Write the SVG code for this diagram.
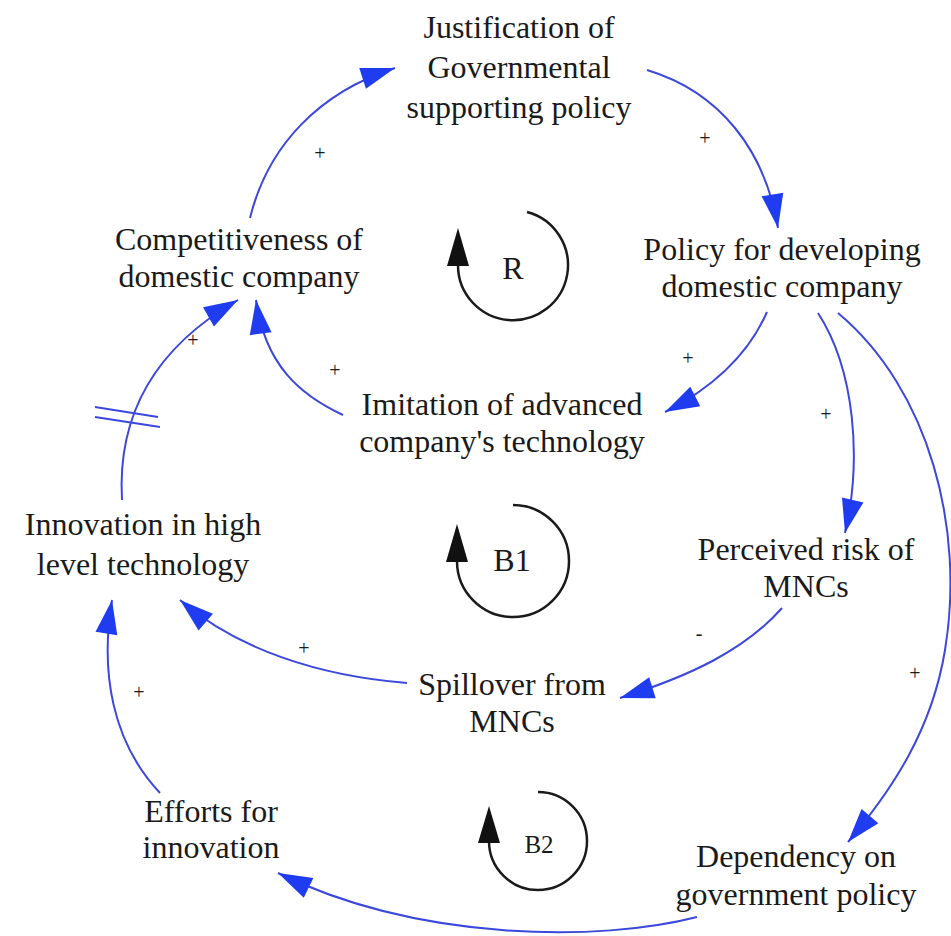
<svg xmlns="http://www.w3.org/2000/svg" width="951" height="936" viewBox="0 0 951 936">
<style>
.t{font-family:"Liberation Serif","Times New Roman",serif;font-size:32px;fill:#1a1a1a;text-anchor:middle}
.s{font-family:"Liberation Serif","Times New Roman",serif;font-size:20px;fill:#1a1a1a;text-anchor:middle}
.c{fill:none;stroke:#3c48dc;stroke-width:2}
.lp{fill:none;stroke:#1a1a1a;stroke-width:2.5}
.hd{fill:#111}
</style>
<defs>
<marker id="ah" markerUnits="userSpaceOnUse" markerWidth="40" markerHeight="26" viewBox="-37 -13 40 26" refX="0" refY="0" orient="auto">
<path d="M0,0 L-34,-11 L-34,11 Z" fill="#1f3cf0"/>
</marker>
</defs>
<rect width="951" height="936" fill="#fff"/>
<g id="connectors">
<path class="c" marker-end="url(#ah)" d="M250,218 C268,145 320,92 395,68"/>
<path class="c" marker-end="url(#ah)" d="M647,70 C720,92 765,150 778,228"/>
<path class="c" marker-end="url(#ah)" d="M767,312 C748,355 712,388 665,412"/>
<path class="c" marker-end="url(#ah)" d="M818,313 C855,370 862,460 845,533"/>
<path class="c" marker-end="url(#ah)" d="M838,313 C930,390 965,530 945,650 C932,730 892,790 848,842"/>
<path class="c" marker-end="url(#ah)" d="M782,608 C745,650 690,676 620,698"/>
<path class="c" marker-end="url(#ah)" d="M407,683 C320,676 238,650 180,600"/>
<path class="c" marker-end="url(#ah)" d="M160,793 C112,742 100,672 112,600"/>
<path class="c" marker-end="url(#ah)" d="M697,917 C600,942 420,942 278,873"/>
<path class="c" marker-end="url(#ah)" d="M122,500 C118,430 142,355 238,300"/>
<path class="c" marker-end="url(#ah)" d="M343,415 C300,395 265,365 256,300"/>
<path class="c" d="M95,407 L158,417 M95,417 L160,427"/>
</g>
<g id="polarities">
<text class="s" x="320" y="160">+</text>
<text class="s" x="705" y="145">+</text>
<text class="s" x="688" y="365">+</text>
<text class="s" x="826" y="421">+</text>
<text class="s" x="915" y="680">+</text>
<text class="s" x="699" y="640">-</text>
<text class="s" x="304" y="655">+</text>
<text class="s" x="139" y="699">+</text>
<text class="s" x="193" y="347">+</text>
<text class="s" x="335" y="377">+</text>
</g>
<g id="loop-R">
<path class="lp" d="M527,212 A55,55 0 1 1 458,265"/>
<polygon class="hd" points="458,228 447,266 469,266"/>
<text class="t" x="513" y="279">R</text>
</g>
<g id="loop-B1">
<path class="lp" d="M513,505 A56,56 0 1 1 457,561"/>
<polygon class="hd" points="457,524 446,562 468,562"/>
<text class="t" x="512" y="571">B1</text>
</g>
<g id="loop-B2">
<path class="lp" d="M538,792 A49,49 0 1 1 489,841"/>
<polygon class="hd" points="489,806 478,843 500,843"/>
<text class="t" x="539" y="853" style="font-size:25px">B2</text>
</g>
<g id="justification">
<text class="t" x="519" y="38">Justification of</text>
<text class="t" x="519" y="78">Governmental</text>
<text class="t" x="519" y="118">supporting policy</text>
</g>
<g id="competitiveness">
<text class="t" x="239" y="250">Competitiveness of</text>
<text class="t" x="239" y="287">domestic company</text>
</g>
<g id="policy">
<text class="t" x="782" y="260">Policy for developing</text>
<text class="t" x="782" y="297">domestic company</text>
</g>
<g id="imitation">
<text class="t" x="502" y="415">Imitation of advanced</text>
<text class="t" x="502" y="452">company's technology</text>
</g>
<g id="innovation">
<text class="t" x="143" y="535">Innovation in high</text>
<text class="t" x="143" y="575">level technology</text>
</g>
<g id="perceived-risk">
<text class="t" x="806" y="560">Perceived risk of</text>
<text class="t" x="806" y="597">MNCs</text>
</g>
<g id="spillover">
<text class="t" x="512" y="695">Spillover from</text>
<text class="t" x="512" y="732">MNCs</text>
</g>
<g id="efforts">
<text class="t" x="211" y="822">Efforts for</text>
<text class="t" x="211" y="858">innovation</text>
</g>
<g id="dependency">
<text class="t" x="796" y="867">Dependency on</text>
<text class="t" x="796" y="905">government policy</text>
</g>
</svg>
